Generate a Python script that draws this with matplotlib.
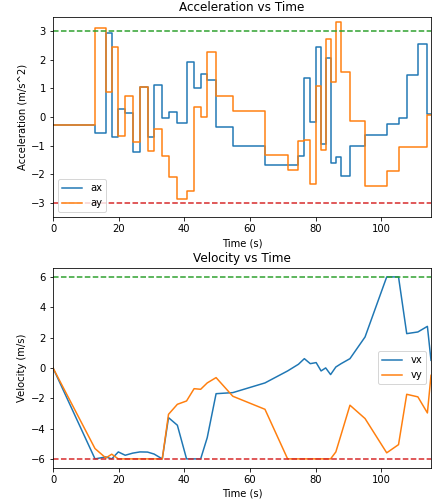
import numpy as np
import matplotlib
matplotlib.use("Agg")
import matplotlib.pyplot as plt

# time stamps (s)
t = [0, 12.8, 16.1, 17.9, 19.9, 22.0, 24.3, 26.5, 28.8, 30.8, 33.3, 35.2, 37.9,
     40.7, 43.0, 45.0, 47.0, 49.7, 54.8, 64.6, 71.5, 74.8, 76.6, 78.4, 80.2,
     81.7, 83.1, 84.6, 86.2, 87.8, 90.5, 95.1, 101.7, 105.3, 107.8, 111.2,
     114.1, 115.2]

# acceleration (m/s^2), held until next time stamp
ax_acc = [-0.26, -0.57, 2.95, -0.69, 0.28, 0.14, -1.21, 1.06, -0.69, 1.13,
          -0.03, 0.19, -0.19, 1.94, 1.01, 1.5, 1.3, -0.36, -1.0, -1.66, -1.66,
          -1.35, 1.36, -0.16, 2.45, -0.94, 2.08, -1.62, -1.38, -2.05, -1.0,
          -0.62, -0.24, -0.03, 1.46, 2.57, 0.1, 0.1]
ay_acc = [-0.26, 3.1, 0.86, 2.45, -0.65, 0.74, -0.86, 1.06, -1.17, -0.42,
          -1.36, -2.1, -2.86, -2.6, 0.36, 0.02, 2.26, 0.74, 0.2, -1.33, -1.85,
          -0.85, -0.8, -2.34, 1.09, -1.15, 2.72, 1.24, 3.34, 1.56, -0.15,
          -2.42, -1.87, -1.06, -1.06, -1.04, 0.08, 0.08]

# velocity (m/s)
vx = [0, -6.0, -5.87, -6.0, -5.54, -5.76, -5.62, -5.54, -5.55, -5.68, -6.0,
      -3.28, -3.78, -6.0, -6.0, -6.0, -4.6, -1.7, -1.63, -0.99, -0.2, 0.24,
      0.61, 0.28, 0.35, -0.2, 0.0, -0.44, 0.06, 0.28, 0.61, 2.04, 6.0, 6.0,
      2.26, 2.37, 2.74, 0.5]
vy = [0, -5.32, -5.94, -5.69, -6.0, -6.0, -6.0, -6.0, -6.0, -6.0, -6.0,
      -3.06, -2.4, -2.18, -1.37, -1.41, -0.99, -0.64, -1.87, -2.73, -6.0,
      -6.0, -6.0, -6.0, -6.0, -6.0, -6.0, -6.0, -5.54, -4.4, -2.46, -3.34,
      -5.6, -5.06, -1.74, -1.91, -2.97, -0.49]

a_max = 3
v_max = 6

dpi = 72
fig = plt.figure(figsize=(432 / dpi, 503 / dpi), dpi=dpi)
ax1 = fig.add_subplot(211)
ax2 = fig.add_subplot(212)
fig.subplots_adjust(left=0.1227, right=0.9977, top=0.9662, bottom=0.0696,
                    hspace=0.253)

ax1.step(t, ax_acc, where='post', label='ax')
ax1.step(t, ay_acc, where='post', label='ay')
ax1.axhline(a_max, color='C2', ls='--')
ax1.axhline(-a_max, color='C3', ls='--')
ax1.set_title("Acceleration vs Time")
ax1.set_xlabel("Time (s)")
ax1.set_ylabel("Acceleration (m/s^2)")
ax1.set_xlim([0, t[-1]])
ax1.set_ylim([-3.5, 3.5])
ax1.legend(loc='lower left')

ax2.plot(t, vx, label='vx')
ax2.plot(t, vy, label='vy')
ax2.axhline(v_max, color='C2', ls='--')
ax2.axhline(-v_max, color='C3', ls='--')
ax2.set_title("Velocity vs Time")
ax2.set_xlabel("Time (s)")
ax2.set_ylabel("Velocity (m/s)")
ax2.set_xlim([0, t[-1]])
ax2.set_ylim([-6.6, 6.6])
ax2.legend(loc='center right')

fig.savefig("out.png", dpi=dpi)
